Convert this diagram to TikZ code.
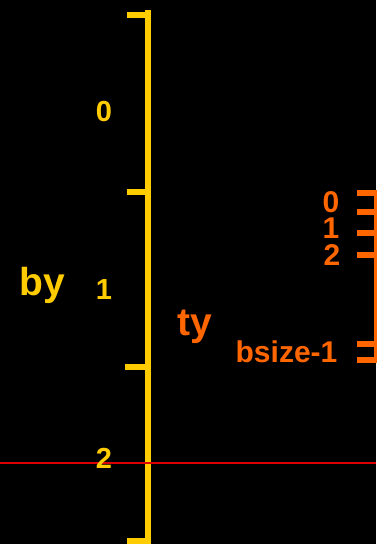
\documentclass[tikz,border=0pt]{standalone}
\usepackage{fontspec}
\setmainfont{Liberation Sans}
\definecolor{ylw}{HTML}{FFCC00}
\definecolor{org}{HTML}{FF6600}
\definecolor{redl}{HTML}{DD0000}
\begin{document}
\begin{tikzpicture}[x=1pt,y=-1pt,
  ybar/.style={draw=ylw,line width=6pt},
  obar/.style={draw=org,line width=6pt},
  ylab/.style={text=ylw,font=\bfseries\fontsize{29}{29}\selectfont,inner sep=0pt},
  olab/.style={text=org,font=\bfseries\fontsize{30}{30}\selectfont,inner sep=0pt},
  big/.style={font=\bfseries\fontsize{39}{39}\selectfont,inner sep=0pt,anchor=base}]
\fill[black] (0,0) rectangle (376,544);
\useasboundingbox (0,0) rectangle (376,544);
% yellow scale
\draw[ybar] (148,10) -- (148,544);
\draw[ybar] (127,14.5) -- (148,14.5);
\draw[ybar] (127,192) -- (148,192);
\draw[ybar] (125,366.5) -- (148,366.5);
\draw[ybar] (127,541) -- (151,541);
% orange scale
\draw[obar] (376.5,190) -- (376.5,363);
\foreach \yy in {193,212,233,255,344,360}
  \draw[obar] (357,\yy) -- (376,\yy);
% red line
\draw[redl,line width=2.5pt] (0,463) -- (376,463);
% labels
\node[ylab] (y0) at (104,112) {0};
\node[ylab] (y1) at (104,290) {1};
\node[ylab] (y2) at (104,458) {2};
\node[big,text=ylw] (by) at (42,295) {by};
\node[big,text=org] (ty) at (195,335) {ty};
\node[olab] (o0) at (331,202.5) {0};
\node[olab] (o1) at (331,228) {1};
\node[olab] (o2) at (332,255) {2};
\node[olab] (ob) at (286.5,351.5) {bsize-1};
\end{tikzpicture}
\end{document}
